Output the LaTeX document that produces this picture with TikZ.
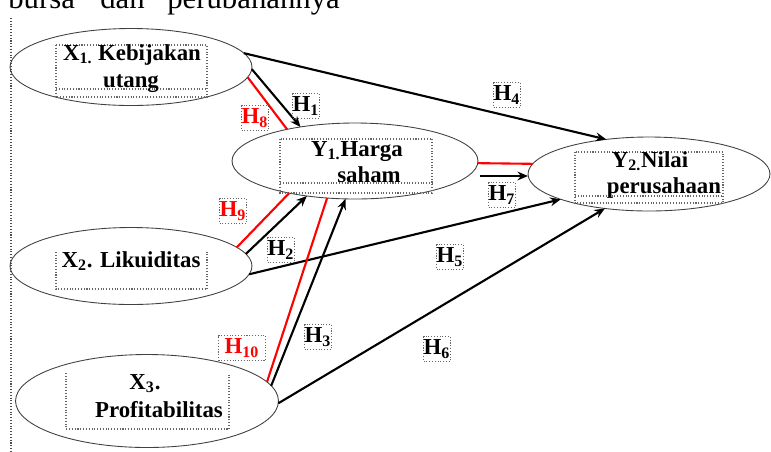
\documentclass[tikz,border=0pt]{standalone}
\usepackage{fontspec}
\setmainfont{Liberation Serif}
\usetikzlibrary{shapes.geometric,arrows.meta}

\tikzset{
  var/.style={ellipse, draw=black!75, line width=0.5pt, inner sep=0pt, outer sep=0pt},
  dotbox/.style={draw=black!60, densely dotted, line width=0.6pt},
  lbl/.style={font=\fontsize{13}{15}\selectfont\bfseries, inner sep=0pt},
  hyp/.style={dotbox, lbl, minimum width=0.54cm, minimum height=0.5cm},
  path/.style={line width=1.2pt, -{Stealth[length=6pt,width=5pt]}},
  redline/.style={line width=1.2pt, red},
}

\begin{document}
\begin{tikzpicture}[x=0.02cm, y=-0.02cm]
        \useasboundingbox (0,0) rectangle (771,451);
        \clip (0,0) rectangle (771,451);

        % Text above the figure
        \node[anchor=base west, inner sep=0pt, font=\fontsize{17.5}{20}\selectfont] (top1) at (8,8) {bursa};
        \node[anchor=base west, inner sep=0pt, font=\fontsize{17.5}{20}\selectfont] (top2) at (100,8) {dan};
        \node[anchor=base west, inner sep=0pt, font=\fontsize{17.5}{20}\selectfont] (top3) at (167,8) {perubahannya};

        % Margin line
        \draw[black!70, densely dotted, line width=0.6pt] (11,18) -- (11,451);

        % Variables
        \node[var, minimum width=4.84cm, minimum height=1.54cm] (x1) at (131,67) {};
        \node[var, minimum width=4.84cm, minimum height=1.54cm] (x2) at (131,266) {};
        \node[var, minimum width=5.26cm, minimum height=1.86cm] (x3) at (147,401) {};
        \node[var, minimum width=4.92cm, minimum height=1.52cm] (y1) at (355,161) {};
        \node[var, minimum width=4.84cm, minimum height=1.48cm] (y2) at (649,174) {};

        % Text boxes inside the variables
        \draw[dotbox] (56,45) rectangle (207,97);
        \draw[dotbox] (56,89) -- (207,89);
        \draw[dotbox] (280,139) rectangle (432,193);
        \draw[dotbox] (280,183) -- (432,183);
        \draw[dotbox] (575,152) rectangle (723,203);
        \draw[dotbox] (575,196) -- (723,196);
        \draw[dotbox] (56,252) -- (56,289) -- (207,289) -- (207,252);
        \draw[dotbox] (66,373) -- (66,429) -- (229,429) -- (229,375);

        % Variable names
        \node[lbl, anchor=base] (x1a) at (132,60) {X\textsubscript{1.} Kebijakan};
        \node[lbl, anchor=base] (x1b) at (131,87) {utang};
        \node[lbl, anchor=base] (x2a) at (131,267) {X\textsubscript{2}. Likuiditas};
        \node[lbl, anchor=base] (x3a) at (145,389) {X\textsubscript{3}.};
        \node[lbl, anchor=base] (x3b) at (159,417) {Profitabilitas};
        \node[lbl, anchor=base] (y1a) at (357,156) {Y\textsubscript{1.}Harga};
        \node[lbl, anchor=base] (y1b) at (369,182) {saham};
        \node[lbl, anchor=base] (y2a) at (650,167) {Y\textsubscript{2.}Nilai};
        \node[lbl, anchor=base] (y2b) at (664,193) {perusahaan};

        % Connections
        \draw[path] (x1.7) -- (y2.141.5);
        \draw[path] (x1.-1) -- (y1.148);
        \draw[redline] (x1.-5) -- (y1.155);
        \draw[redline] (y1.-1.5) -- (y2.175);
        \draw[path] ([shift={(2,15)}]y1.east) -- ([shift={(0,2)}]y2.west);
        \draw[path] (x2.-4) -- (y2.196);
        \draw[path] (x2.6.5) -- (y1.216);
        \draw[redline] (x2.10.6) -- (y1.206);
        \draw[path] (x3.-1) -- (y2.218.5);
        \draw[path] (x3.7) -- (y1.256);
        \draw[redline] (x3.9.4) -- (y1.233);

        % Hypotheses
        \node[hyp] (h1) at (306,106) {H\textsubscript{1}};
        \node[hyp, text=red] (h8) at (255,118) {H\textsubscript{8}};
        \node[hyp] (h4) at (507,95) {H\textsubscript{4}};
        \node[hyp] (h7) at (502,195) {H\textsubscript{7}};
        \node[hyp, text=red] (h9) at (233,211) {H\textsubscript{9}};
        \node[hyp] (h2) at (281,250) {H\textsubscript{2}};
        \node[hyp] (h5) at (450,257) {H\textsubscript{5}};
        \node[hyp] (h3) at (318,337) {H\textsubscript{3}};
        \node[hyp] (h6) at (437,349) {H\textsubscript{6}};
        \node[hyp, text=red, minimum width=0.94cm] (h10) at (242,348) {H\textsubscript{10}};
    \end{tikzpicture}
\end{document}
